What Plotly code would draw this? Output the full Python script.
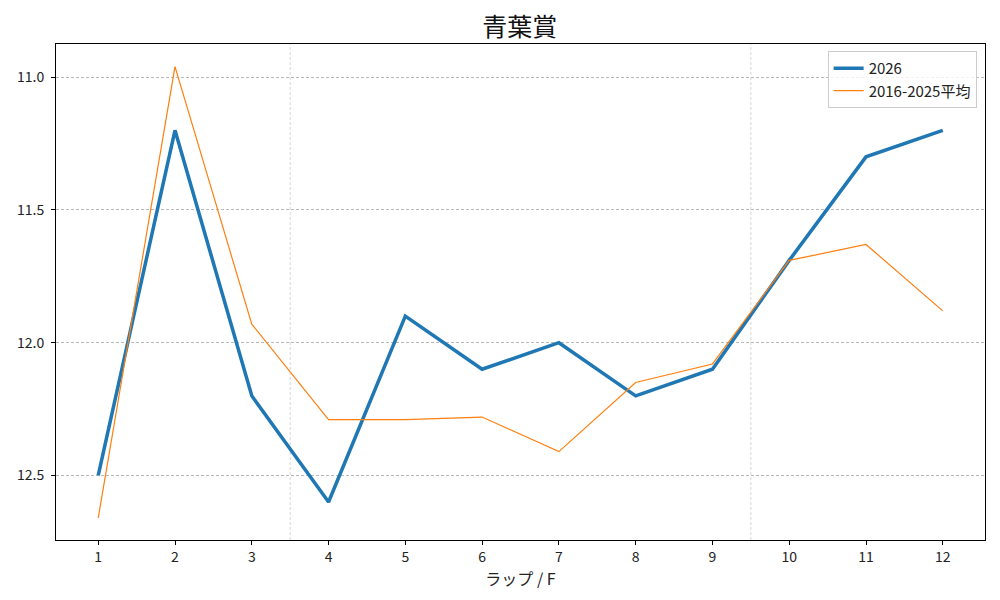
import plotly.graph_objects as go

# data
laps = list(range(1, 13))
lap_2026 = [12.5, 11.2, 12.2, 12.6, 11.9, 12.1, 12.0, 12.2, 12.1, 11.69, 11.3, 11.2]
lap_avg = [12.66, 10.96, 11.93, 12.29, 12.29, 12.28, 12.41, 12.15, 12.08, 11.69, 11.63, 11.88]
section_breaks = [3.5, 9.5]

font_jp = "Noto Sans CJK JP"

fig = go.Figure()
fig.add_trace(go.Scatter(x=laps, y=lap_2026, mode="lines", name="2026",
                         line=dict(color="#1f77b4", width=3.5)))
fig.add_trace(go.Scatter(x=laps, y=lap_avg, mode="lines", name="2016-2025平均",
                         line=dict(color="#ff7f0e", width=1.2)))

# vertical section dividers
for xb in section_breaks:
    fig.add_vline(x=xb, line=dict(color="#c4c4c4", width=0.7, dash="3px,2px"), layer="below")

# page body has an 8px margin, so the figure is sized a bit smaller
fig.update_layout(
    width=992, height=592,
    paper_bgcolor="white", plot_bgcolor="white",
    margin=dict(l=48, r=15, t=36, b=60, autoexpand=False),
    font=dict(family=font_jp, size=14, color="#222"),
    title=dict(text="青葉賞", x=0.516, xanchor="center", y=0.968, yanchor="middle",
               font=dict(family=font_jp, size=25, color="#111")),
    legend=dict(x=0.991, xanchor="right", y=0.986, yanchor="top",
                bgcolor="rgba(255,255,255,0.8)", bordercolor="#cccccc", borderwidth=1,
                font=dict(size=15), tracegroupgap=0),
    showlegend=True,
)

fig.update_xaxes(
    range=[0.45, 12.55], tickmode="array", tickvals=laps, automargin=False,
    ticks="outside", ticklen=4, tickcolor="black",
    showline=True, linecolor="black", linewidth=1, mirror=True,
    showgrid=False, zeroline=False,
    title=dict(text="ラップ / F", font=dict(size=16), standoff=4),
)
fig.update_yaxes(
    range=[12.743, 10.875], tickvals=[11.0, 11.5, 12.0, 12.5], tickformat=".1f",
    automargin=False, ticklabelstandoff=4,
    ticks="outside", ticklen=4, tickcolor="black",
    showline=True, linecolor="black", linewidth=1, mirror=True,
    showgrid=True, gridcolor="#b8b8b8", gridwidth=0.6, griddash="3px,2px",
    zeroline=False,
)

fig.write_html("out.html")
